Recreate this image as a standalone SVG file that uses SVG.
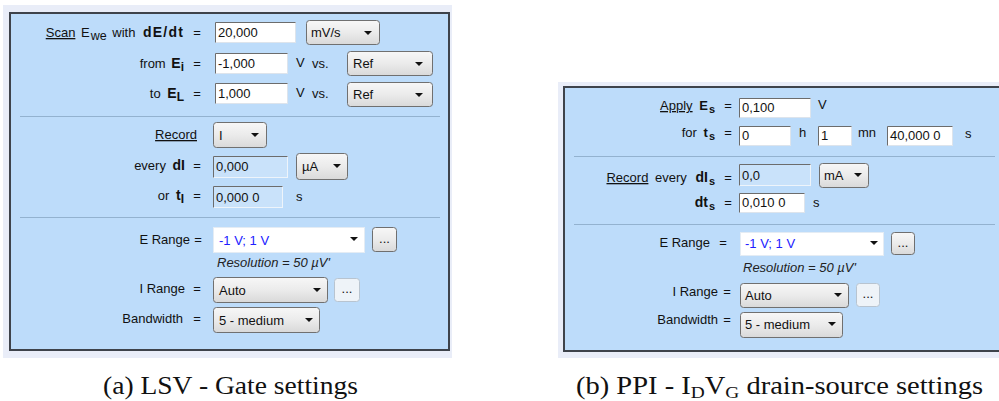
<svg xmlns="http://www.w3.org/2000/svg" width="999" height="401" viewBox="0 0 999 401">
<defs>
<linearGradient id="dd" x1="0" y1="0" x2="0" y2="1">
<stop offset="0" stop-color="#f7f7f7"/><stop offset="0.5" stop-color="#ebebeb"/><stop offset="1" stop-color="#d9d9d9"/>
</linearGradient>
<style>
text{font-family:"Liberation Sans",Arial,sans-serif;fill:#111}
.a text{font-size:13px}
.b text{font-size:13px}
.outer{fill:#e9edf8}
.panel{fill:#bddcfa;stroke:#3e434b;stroke-width:2}
.sep{stroke:#93b2cf;stroke-width:1}
.dd{fill:url(#dd);stroke:#707070;stroke-width:1}
.inp{fill:#fff;stroke:#dde4ec;stroke-width:1}
.dis{fill:#c9e2fa;stroke:#eef4fa;stroke-width:1}
.sh{fill:none;stroke:#6c6c6c;stroke-width:1}
.arr{fill:#111}
.btn{fill:url(#dd);stroke:#6f6f6f;stroke-width:1}
.dbtn{fill:#eef3f8;stroke:#b8c4d0;stroke-width:1}
.cb{fill:#fff;stroke:#e4ecf4;stroke-width:1}
.blue{fill:#2020ff}
.it{font-style:italic;fill:#222}
.u{text-decoration:underline}
.bd{font-weight:bold}
.cap{font-family:"Liberation Serif","Times New Roman",serif;font-size:25px;fill:#111}
</style>
</defs>

<!-- Panel (a) -->
<g id="panel-a" class="a">
<rect class="outer" x="3" y="5" width="449" height="353"/>
<rect class="panel" x="10" y="13" width="439" height="337"/>
<line class="sep" x1="20" y1="116.5" x2="440" y2="116.5"/>
<line class="sep" x1="20" y1="217.5" x2="440" y2="217.5"/>

<g id="a-scan">
<text x="184" y="37" text-anchor="end" word-spacing="2"><tspan class="u">Scan</tspan> E<tspan font-size="12.5" dy="3" dx="1">we</tspan><tspan dy="-3"> with </tspan><tspan class="bd" font-size="14" letter-spacing="1.2" dx="2">dE/dt</tspan></text>
<text x="197" y="37" text-anchor="middle">=</text>
<rect class="inp" x="215.5" y="22.5" width="80" height="20"/>
<path class="sh" d="M215.5,42.5 V22.5 H295.5"/>
<text x="218" y="37">20,000</text>
<rect class="dd" x="306.5" y="20.5" width="73" height="24" rx="3"/>
<text x="311" y="37">mV/s</text>
<path class="arr" d="M364,31 h8 l-4,4 z"/>
</g>

<g id="a-from">
<text x="184" y="68" text-anchor="end">from <tspan class="bd" font-size="14" dx="2">E</tspan><tspan class="bd" font-size="12" dy="3">i</tspan></text>
<text x="197" y="68" text-anchor="middle">=</text>
<rect class="inp" x="215.5" y="53.5" width="72" height="20"/>
<path class="sh" d="M215.5,73.5 V53.5 H287.5"/>
<text x="218" y="68">-1,000</text>
<text x="296" y="67">V</text>
<text x="312" y="68" font-size="11">vs.</text>
<rect class="dd" x="347.5" y="51.5" width="85" height="24" rx="3"/>
<text x="353" y="68">Ref</text>
<path class="arr" d="M415,62 h8 l-4,4 z"/>
</g>

<g id="a-to">
<text x="184" y="98" text-anchor="end">to <tspan class="bd" font-size="14" dx="3">E</tspan><tspan class="bd" font-size="12" dy="3">L</tspan></text>
<text x="197" y="98" text-anchor="middle">=</text>
<rect class="inp" x="215.5" y="83.5" width="72" height="20"/>
<path class="sh" d="M215.5,103.5 V83.5 H287.5"/>
<text x="218" y="98">1,000</text>
<text x="296" y="97">V</text>
<text x="312" y="98" font-size="11">vs.</text>
<rect class="dd" x="347.5" y="82.5" width="85" height="24" rx="3"/>
<text x="353" y="99">Ref</text>
<path class="arr" d="M415,93 h8 l-4,4 z"/>
</g>

<g id="a-record">
<text x="197" y="139" text-anchor="end" class="u">Record</text>
<rect class="dd" x="213.5" y="122.5" width="53" height="25" rx="3"/>
<text x="219" y="140">I</text>
<path class="arr" d="M251,133 h8 l-4,4 z"/>
</g>

<g id="a-every">
<text x="185" y="170" text-anchor="end">every <tspan class="bd" font-size="14" dx="3">dI</tspan></text>
<text x="197" y="170" text-anchor="middle">=</text>
<rect class="dis" x="213.5" y="156.5" width="74" height="21"/>
<path class="sh" d="M213.5,177.5 V156.5 H287.5"/>
<text x="216" y="171">0,000</text>
<rect class="dd" x="296.5" y="153.5" width="51" height="26" rx="3"/>
<text x="302" y="171">µA</text>
<path class="arr" d="M333,164 h8 l-4,4 z"/>
</g>

<g id="a-or">
<text x="184" y="200" text-anchor="end">or <tspan class="bd" font-size="14" dx="3">t</tspan><tspan class="bd" font-size="12" dy="3">I</tspan></text>
<text x="197" y="200" text-anchor="middle">=</text>
<rect class="dis" x="213.5" y="186.5" width="69" height="21"/>
<path class="sh" d="M213.5,207.5 V186.5 H282.5"/>
<text x="216" y="202">0,000 0</text>
<text x="296" y="201" font-size="11">s</text>
</g>

<g id="a-erange">
<text x="190" y="244" text-anchor="end" font-size="13.5">E Range</text>
<text x="198" y="244" text-anchor="middle">=</text>
<rect class="cb" x="213.5" y="227.5" width="151" height="25"/>
<text x="219" y="245" class="blue">-1 V; 1 V</text>
<path class="arr" d="M350,237 h8 l-4,4 z"/>
<rect class="btn" x="372.5" y="227.5" width="24" height="24" rx="3"/>
<text x="384.5" y="243" text-anchor="middle" font-size="11">...</text>
<text x="217" y="267" class="it" font-size="12.5">Resolution = 50 µV'</text>
</g>

<g id="a-irange">
<text x="185" y="293" text-anchor="end" font-size="13.5">I Range</text>
<text x="197" y="293" text-anchor="middle">=</text>
<rect class="dd" x="213.5" y="277.5" width="114" height="25" rx="3"/>
<text x="219" y="295">Auto</text>
<path class="arr" d="M313,288 h8 l-4,4 z"/>
<rect class="dbtn" x="334.5" y="278.5" width="25" height="23" rx="3"/>
<text x="347" y="293" text-anchor="middle" font-size="10" fill="#aab">...</text>
</g>

<g id="a-bandwidth">
<text x="183" y="323" text-anchor="end" font-size="13.5">Bandwidth</text>
<text x="197" y="323" text-anchor="middle">=</text>
<rect class="dd" x="213.5" y="307.5" width="106" height="25" rx="3"/>
<text x="219" y="325">5 - medium</text>
<path class="arr" d="M305,318 h8 l-4,4 z"/>
</g>
</g>

<!-- Panel (b) -->
<g id="panel-b" class="b">
<rect class="outer" x="558" y="82" width="441" height="276"/>
<rect class="panel" x="564" y="87" width="440" height="264"/>
<line class="sep" x1="574" y1="156.5" x2="995" y2="156.5"/>
<line class="sep" x1="574" y1="224.5" x2="995" y2="224.5"/>

<g id="b-apply">
<text x="715" y="110" text-anchor="end"><tspan class="u">Apply</tspan> <tspan class="bd" dx="3">E</tspan><tspan class="bd" font-size="11" dy="3" dx="1">s</tspan></text>
<text x="728" y="110" text-anchor="middle">=</text>
<rect class="inp" x="739.5" y="98.5" width="71" height="19"/>
<path class="sh" d="M739.5,117.5 V98.5 H810.5"/>
<text x="742" y="112">0,100</text>
<text x="818" y="109">V</text>
</g>

<g id="b-for">
<text x="715" y="137" text-anchor="end">for <tspan class="bd" dx="3">t</tspan><tspan class="bd" font-size="11" dy="3" dx="1">s</tspan></text>
<text x="728" y="137" text-anchor="middle">=</text>
<rect class="inp" x="739.5" y="126.5" width="51" height="19"/>
<path class="sh" d="M739.5,145.5 V126.5 H790.5"/>
<text x="742" y="140">0</text>
<text x="799" y="137">h</text>
<rect class="inp" x="818.5" y="126.5" width="33" height="19"/>
<path class="sh" d="M818.5,145.5 V126.5 H851.5"/>
<text x="821" y="140">1</text>
<text x="858" y="137">mn</text>
<rect class="inp" x="887.5" y="126.5" width="65" height="19"/>
<path class="sh" d="M887.5,145.5 V126.5 H952.5"/>
<text x="890" y="140" font-size="12.5">40,000 0</text>
<text x="965" y="138" font-size="11">s</text>
</g>

<g id="b-record">
<text x="715" y="182" text-anchor="end" word-spacing="3"><tspan class="u">Record</tspan> every <tspan class="bd" font-size="14" dx="2">dI</tspan><tspan class="bd" font-size="11" dy="3" dx="1">s</tspan></text>
<text x="728" y="182" text-anchor="middle">=</text>
<rect class="dis" x="739.5" y="164.5" width="71" height="21"/>
<path class="sh" d="M739.5,185.5 V164.5 H810.5"/>
<text x="742" y="180">0,0</text>
<rect class="dd" x="819.5" y="163.5" width="49" height="24" rx="3"/>
<text x="824" y="180">mA</text>
<path class="arr" d="M854,173 h8 l-4,4 z"/>
</g>

<g id="b-dt">
<text x="715" y="207" text-anchor="end"><tspan class="bd" font-size="14">dt</tspan><tspan class="bd" font-size="11" dy="3" dx="1">s</tspan></text>
<text x="728" y="207" text-anchor="middle">=</text>
<rect class="inp" x="739.5" y="193.5" width="65" height="19"/>
<path class="sh" d="M739.5,212.5 V193.5 H804.5"/>
<text x="742" y="207">0,010 0</text>
<text x="813" y="207" font-size="11">s</text>
</g>

<g id="b-erange">
<text x="710" y="247" text-anchor="end">E Range</text>
<text x="723" y="247" text-anchor="middle">=</text>
<rect class="cb" x="740.5" y="232.5" width="143" height="23"/>
<text x="745" y="248" class="blue">-1 V; 1 V</text>
<path class="arr" d="M870,241 h8 l-4,4 z"/>
<rect class="btn" x="891.5" y="232.5" width="23" height="22" rx="3"/>
<text x="903" y="247" text-anchor="middle" font-size="10">...</text>
<text x="743" y="272" class="it" font-size="12">Resolution = 50 µV'</text>
</g>

<g id="b-irange">
<text x="718" y="296" text-anchor="end">I Range</text>
<text x="727" y="296" text-anchor="middle">=</text>
<rect class="dd" x="740.5" y="283.5" width="108" height="24" rx="3"/>
<text x="745" y="300">Auto</text>
<path class="arr" d="M834,293 h8 l-4,4 z"/>
<rect class="dbtn" x="856.5" y="283.5" width="23" height="23" rx="3"/>
<text x="868" y="298" text-anchor="middle" font-size="10" fill="#aab">...</text>
</g>

<g id="b-bandwidth">
<text x="718" y="324" text-anchor="end">Bandwidth</text>
<text x="727" y="324" text-anchor="middle">=</text>
<rect class="dd" x="740.5" y="312.5" width="102" height="25" rx="3"/>
<text x="745" y="329">5 - medium</text>
<path class="arr" d="M828,322 h8 l-4,4 z"/>
</g>
</g>

<!-- Captions -->
<text id="cap-a" class="cap" x="103" y="394" textLength="255" lengthAdjust="spacingAndGlyphs">(a) LSV - Gate settings</text>
<text id="cap-b" class="cap" x="576" y="394" textLength="407" lengthAdjust="spacingAndGlyphs">(b) PPI - I<tspan font-size="17" dy="4">D</tspan><tspan dy="-4">V</tspan><tspan font-size="17" dy="4">G</tspan><tspan dy="-4"> drain-source settings</tspan></text>
</svg>
